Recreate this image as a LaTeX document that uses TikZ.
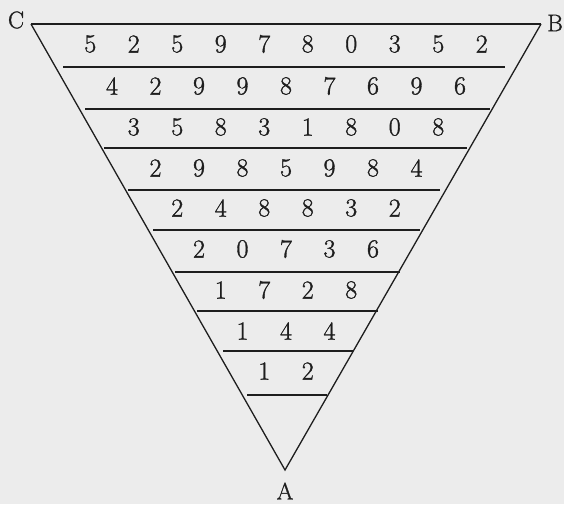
\documentclass[tikz,border=0pt]{standalone}
\usepackage{fontspec}
\usepackage{tikz}
\newfontfamily\figfont{Latin Modern Roman}[FakeBold=1.2]
\definecolor{paper}{RGB}{236,236,236}
\definecolor{ink}{RGB}{30,30,30}
\tikzset{
  digit/.style={font=\figfont\fontsize{26}{30}\selectfont, text=ink, inner sep=0pt},
  corner/.style={font=\figfont\fontsize{24}{28}\selectfont, text=ink, inner sep=0pt},
  rule/.style={ink, line width=1.6pt},
  side/.style={ink, line width=1.3pt}
}
\begin{document}
\begin{tikzpicture}[x=1pt,y=-1pt]
% Paper
\fill[paper] (0,0) rectangle (564,504);
\useasboundingbox (0,0) rectangle (564,504);
% Corners
\node[corner] (C) at (16,20) {C};
\node[corner] (B) at (555,23) {B};
\node[corner] (A) at (285,491) {A};
\coordinate (c) at (31,24);
\coordinate (b) at (541,24);
\coordinate (a) at (285,470);
% Triangle
\draw[rule] (c) -- (b);
\draw[side] (c) -- (a) -- (b);
% Rows: digit height / rule height / rule ends / digits
\foreach \y/\ry/\xl/\xr/\digits [count=\r] in {
  44/67/63/505/{5,2,5,9,7,8,0,3,5,2},
  86/109/85/490/{4,2,9,9,8,7,6,9,6},
  127/148/104/467/{3,5,8,3,1,8,0,8},
  168/190/128/440/{2,9,8,5,9,8,4},
  208/230/153/420/{2,4,8,8,3,2},
  249/272/175/400/{2,0,7,3,6},
  290/311/197/378/{1,7,2,8},
  331/351/223/353/{1,4,4},
  371/395/247/327/{1,2}} {
  \foreach \d [count=\k] in \digits {
    \pgfmathsetmacro\x{286+(\k-(12-\r)/2)*43.5}
    \node[digit] (d\r-\k) at (\x,\y) {\d};
  }
  \draw[rule] (\xl,\ry) -- (\xr,\ry);
}
\end{tikzpicture}
\end{document}
